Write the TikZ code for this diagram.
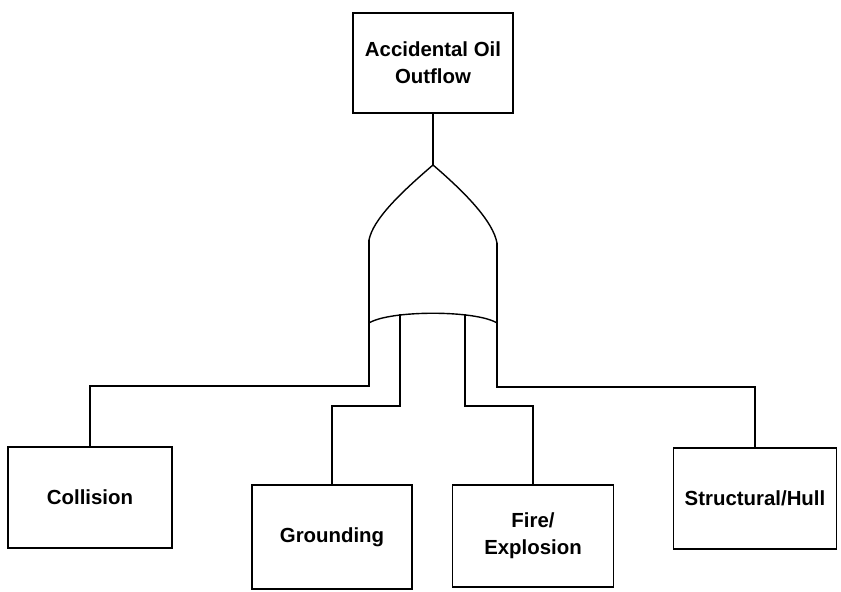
\documentclass[tikz,border=0pt]{standalone}
\usepackage{fontspec}
\setmainfont{Liberation Sans}
\begin{document}
\begin{tikzpicture}[x=0.5pt,y=-0.5pt,line width=0.7pt,
	event/.style={draw,rectangle,align=center,inner sep=0pt,font=\fontsize{10.2}{13.5}\selectfont\bfseries}]
	\useasboundingbox (0,0) rectangle (841,592);
	\node[event,minimum width=80pt,minimum height=50pt] (top) at (433,63) {Accidental Oil\\Outflow};
	\node[event,minimum width=82pt,minimum height=50.5pt] (col) at (90,497.5) {Collision};
	\node[event,minimum width=80pt,minimum height=52pt] (grd) at (332,537) {Grounding};
	\node[event,minimum width=80.5pt,minimum height=51pt] (fire) at (533,536) {Fire/\\Explosion};
	\node[event,minimum width=81.5pt,minimum height=50.5pt] (hull) at (755,498.5) {Structural/Hull};
	\coordinate (apex) at (433,165);
	\coordinate (leg1) at (369,323);
	\coordinate (leg2) at (400,314);
	\coordinate (leg3) at (465,314);
	\coordinate (leg4) at (497,323);
	\draw (top.south) -- (apex);
	\draw (369,240) .. controls (373,220) and (398,195) .. (apex);
	\draw (497,243) .. controls (493,222) and (468,195) .. (apex);
	\draw (369,240) -- (leg1);
	\draw (497,243) -- (leg4);
	\draw (leg1) .. controls (390,310) and (476,310) .. (leg4);
	\draw (leg1) -- ++(0,63) -| (col.north);
	\draw (leg2) -- (400,406) -| (grd.north);
	\draw (leg3) -- (465,406) -| (fire.north);
	\draw (leg4) -- ++(0,64) -| (hull.north);
\end{tikzpicture}
\end{document}
